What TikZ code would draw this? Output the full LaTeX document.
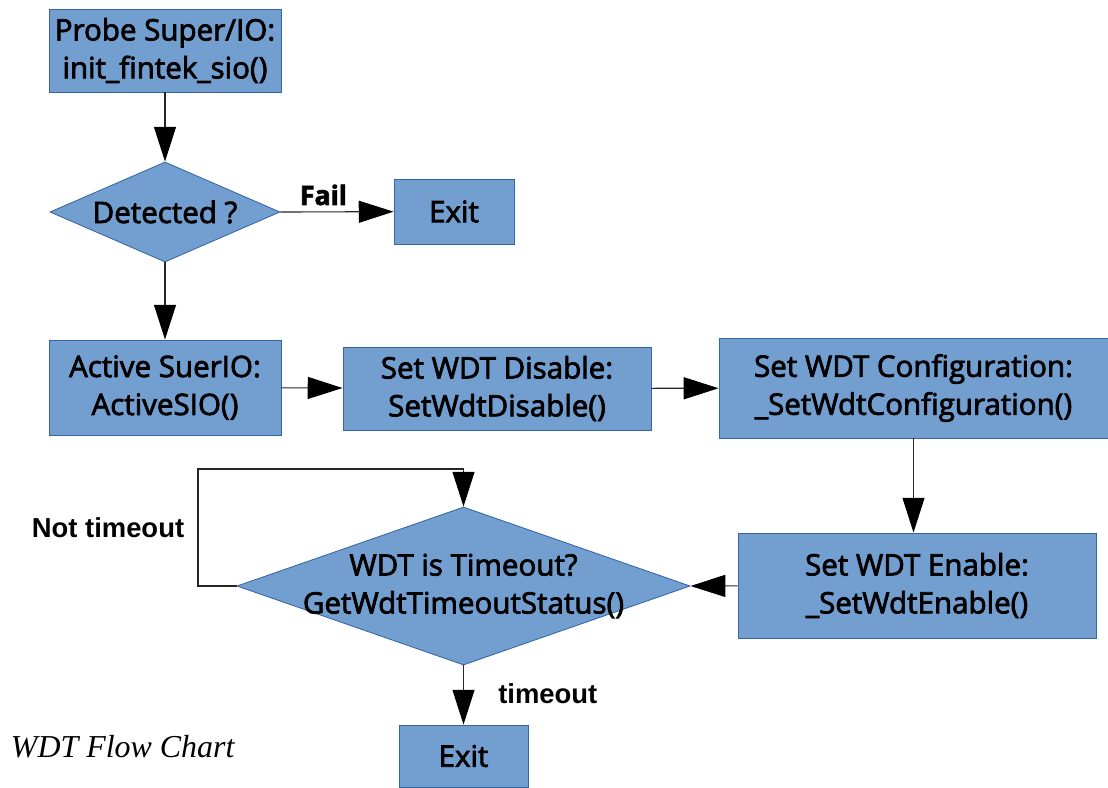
\documentclass[tikz,border=0pt]{standalone}
\usepackage{fontspec}
\usepackage{tikz}
\usetikzlibrary{arrows.meta,positioning,shapes.geometric}
\newfontfamily\boxfont[FakeBold=2.5]{Open Sans}
\newfontfamily\labfont{Liberation Sans}
\newfontfamily\capfont{Liberation Serif}
\definecolor{wdtfill}{RGB}{114,159,207}
\definecolor{wdtedge}{RGB}{52,101,164}
\colorlet{wdtline}{black!85}

\begin{document}
\begin{tikzpicture}[
      x=0.025cm, y=-0.025cm,
      box/.style={draw=wdtedge, fill=wdtfill, align=center, inner sep=0pt,
                  font=\boxfont\fontsize{21}{27}\selectfont, line width=0.6pt},
      decision/.style={box, diamond, aspect=2.3},
      lab/.style={font=\labfont\bfseries\fontsize{19.5}{23}\selectfont},
      arr/.style={-{Triangle[length=0.87cm, width=0.55cm, color=black]},
                  line width=0.8pt, draw=wdtline}
    ]
    \useasboundingbox (0,0) rectangle (1108,787);

    \node[box, minimum width=5.8cm, minimum height=2.075cm] (probe) at (165,50.5)
      {Probe Super/IO:\\init\_fintek\_sio()};
    \node[decision, minimum width=5.75cm, minimum height=2.5cm] (detect) at (165,212)
      {Detected ?};
    \node[box, minimum width=3.0cm, minimum height=1.625cm] (exitA) at (454,211.5)
      {Exit};
    \node[box, minimum width=5.8cm, minimum height=2.375cm] (active) at (165,387.5)
      {Active SuerIO:\\ActiveSIO()};
    \node[box, minimum width=7.7cm, minimum height=2.075cm] (disable) at (497,388.5)
      {Set WDT Disable:\\SetWdtDisable()};
    \node[box, minimum width=9.725cm, minimum height=2.5cm] (config) at (913.5,388)
      {Set WDT Configuration:\\\_SetWdtConfiguration()};
    \node[box, minimum width=8.95cm, minimum height=2.625cm] (enable) at (917,585.5)
      {Set WDT Enable:\\\_SetWdtEnable()};
    \node[decision, minimum width=11.325cm, minimum height=3.95cm] (timeout) at (463.5,586) {};
    \node[font=\boxfont\fontsize{21}{27}\selectfont, align=center] (timeouttext) at (timeout)
      {WDT is Timeout?\\GetWdtTimeoutStatus()};
    \node[box, minimum width=3.225cm, minimum height=1.55cm] (exitB) at (463.5,756)
      {Exit};

    \draw[arr] (probe) -- (detect);
    \draw[arr] (detect.east) -- node[font=\boxfont\bfseries\fontsize{19}{23}\selectfont,
      above=1pt, pos=0.38] {Fail} (exitA);
    \draw[arr] (detect) -- (active);
    \draw[arr] (active) -- (disable);
    \draw[arr] (disable) -- (config);
    \draw[arr] (config.south) -- (config.south |- enable.north);
    \draw[arr] (enable) -- (timeout.east);
    \coordinate (loop) at (198,469);
    \draw[arr] (timeout.west) -| (loop) -| (timeout.north);
    \draw[arr] (timeout.south) -- node[lab, right=21pt, pos=0.48] {timeout} (exitB);

    \node[lab] (nottimeout) at (108,528) {Not timeout};
    \node[font=\capfont\itshape\fontsize{22.7}{26}\selectfont, anchor=west] (caption)
      at (6,747) {WDT Flow Chart};
  \end{tikzpicture}
\end{document}
